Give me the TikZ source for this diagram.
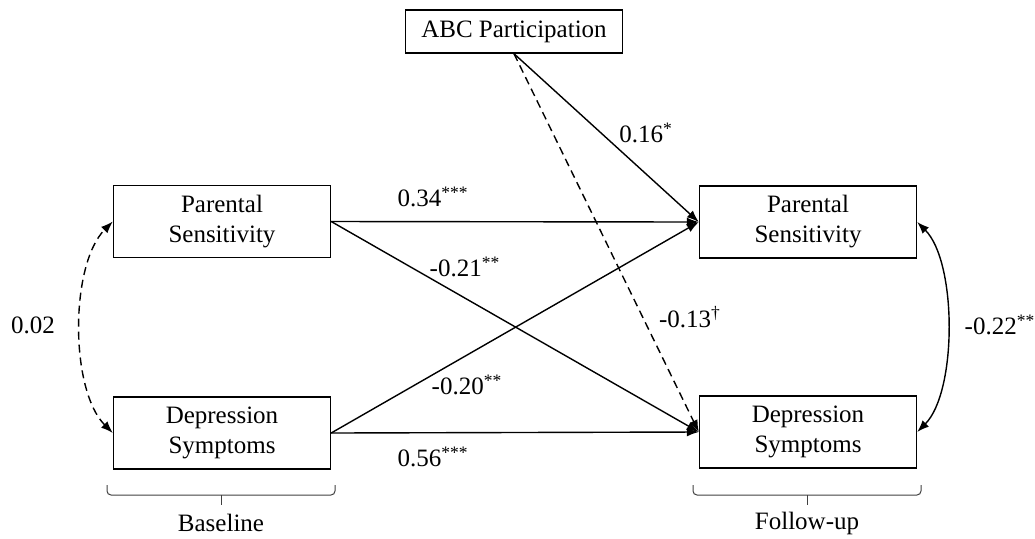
\documentclass[tikz,border=0pt]{standalone}
\usepackage{fontspec}
\setmainfont{Liberation Serif}
\usepackage{tikz}
\usetikzlibrary{arrows.meta}

\begin{document}
\begin{tikzpicture}
[x=0.5pt,y=-0.5pt,
font=\fontsize{12.5}{15}\selectfont,
box/.style={draw,line width=0.7pt,minimum width=108.5pt,
minimum height=36pt,align=center,inner sep=0pt},
abcbox/.style={box,minimum height=21.5pt},
effect/.style={line width=0.7pt,-{Latex[length=6pt,width=4.5pt]}},
covary/.style={line width=0.7pt,{Latex[length=6pt,width=4.5pt]}-{Latex[length=6pt,width=4.5pt]}},
brace/.style={line width=0.5pt,black!75,rounded corners=2pt}]
\useasboundingbox (0,0) rectangle (1035,538);
\node[abcbox] (abc) at (514,31.5) {ABC Participation};
\node[box] (ps1) at (222,221.5) {Parental\\Sensitivity};
\node[box] (ds1) at (222,433) {Depression\\Symptoms};
\node[box] (ps2) at (808,222) {Parental\\Sensitivity};
\node[box] (ds2) at (808,432) {Depression\\Symptoms};
\draw[effect] (abc.south) -- (ps2.west);
\draw[effect,dashed,dash pattern=on 4pt off 2.5pt] (abc.south) -- (ds2.west);
\draw[effect] (ps1.east) -- (ps2.west);
\draw[effect] (ps1.east) -- (ds2.west);
\draw[effect] (ds1.east) -- (ps2.west);
\draw[effect] (ds1.east) -- (ds2.west);
\draw[covary,dash pattern=on 4pt off 2.5pt] (ds1.west) .. controls +(-43,-43) and +(-43,43) .. (ps1.west);
\draw[covary] (ps2.east) .. controls +(40,40) and +(40,-40) .. (ds2.east);
\node (c02) at (33,325) {0.02};
\node (c22) at (1000,325) {-0.22\textsuperscript{**}};
\node (c16) at (646,133) {0.16\textsuperscript{*}};
\node (c34) at (433,197) {0.34\textsuperscript{***}};
\node (c21) at (465,267) {-0.21\textsuperscript{**}};
\node (c13) at (690,317) {-0.13\textsuperscript{\textdagger}};
\node (c20) at (467,385) {-0.20\textsuperscript{**}};
\node (c56) at (433,457) {0.56\textsuperscript{***}};
\draw[brace] (107,485) -- (107,495) -- (335,495) -- (335,485);
\draw[brace] (221,495) -- (221,505);
\draw[brace] (693,485) -- (693,495) -- (921,495) -- (921,485);
\draw[brace] (807,495) -- (807,505);
\node (base) at (221,523) {Baseline};
\node (follow) at (807,523) {Follow-up};
\end{tikzpicture}
\end{document}
